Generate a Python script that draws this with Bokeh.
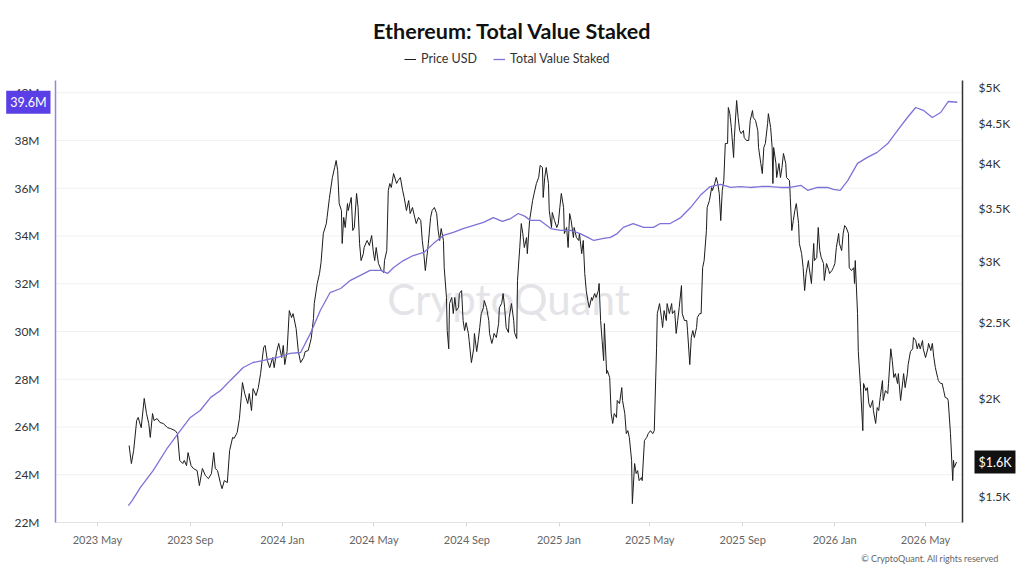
import numpy as np
import pandas as pd
from bokeh.plotting import figure
from bokeh.models import (Range1d, LinearAxis, LogAxis, DatetimeAxis, LogScale, FixedTicker,
                          DatetimeTickFormatter, PrintfTickFormatter, Label, Legend, LegendItem)
from bokeh.embed import file_html
from bokeh.resources import INLINE

price_dates = [
 "2023-06-12","2023-06-15","2023-06-18","2023-06-22","2023-06-24","2023-06-28","2023-07-02","2023-07-05","2023-07-08","2023-07-10",
 "2023-07-13","2023-07-15","2023-07-19","2023-07-23","2023-07-27","2023-08-02","2023-08-06","2023-08-12","2023-08-15","2023-08-18",
 "2023-08-22","2023-08-24","2023-08-27","2023-08-29","2023-09-02","2023-09-05","2023-09-10","2023-09-13","2023-09-17","2023-09-21",
 "2023-09-25","2023-09-29","2023-10-02","2023-10-04","2023-10-07","2023-10-11","2023-10-13","2023-10-16","2023-10-20","2023-10-23",
 "2023-10-27","2023-10-29","2023-11-02","2023-11-05","2023-11-09","2023-11-12","2023-11-16","2023-11-18","2023-11-21","2023-11-23",
 "2023-11-27","2023-11-30","2023-12-03","2023-12-07","2023-12-09","2023-12-12","2023-12-15","2023-12-19","2023-12-21","2023-12-24",
 "2023-12-27","2023-12-31","2024-01-02","2024-01-04","2024-01-07","2024-01-10","2024-01-13","2024-01-15","2024-01-19","2024-01-22",
 "2024-01-25","2024-01-29","2024-01-31","2024-02-04","2024-02-08","2024-02-11","2024-02-12","2024-02-16","2024-02-19","2024-02-21",
 "2024-02-24","2024-02-28","2024-02-29","2024-03-03","2024-03-07","2024-03-10","2024-03-12","2024-03-14","2024-03-16","2024-03-19",
 "2024-03-20","2024-03-22","2024-03-24","2024-03-27","2024-03-28","2024-04-01","2024-04-03","2024-04-05","2024-04-08","2024-04-10",
 "2024-04-12","2024-04-14","2024-04-17","2024-04-18","2024-04-22","2024-04-25","2024-04-28","2024-04-30","2024-05-02","2024-05-04",
 "2024-05-07","2024-05-11","2024-05-14","2024-05-15","2024-05-18","2024-05-20","2024-05-22","2024-05-24","2024-05-27","2024-05-31",
 "2024-06-02","2024-06-05","2024-06-08","2024-06-10","2024-06-13","2024-06-16","2024-06-18","2024-06-21","2024-06-24","2024-06-26",
 "2024-06-29","2024-07-02","2024-07-04","2024-07-06","2024-07-08","2024-07-11","2024-07-12","2024-07-15","2024-07-17","2024-07-20",
 "2024-07-23","2024-07-25","2024-07-27","2024-07-29","2024-08-01","2024-08-02","2024-08-05","2024-08-06","2024-08-08","2024-08-09",
 "2024-08-12","2024-08-14","2024-08-16","2024-08-18","2024-08-21","2024-08-22","2024-08-25","2024-08-27","2024-08-29","2024-08-31",
 "2024-09-03","2024-09-04","2024-09-07","2024-09-10","2024-09-11","2024-09-14","2024-09-16","2024-09-18","2024-09-20","2024-09-23",
 "2024-09-24","2024-09-27","2024-09-30","2024-10-01","2024-10-04","2024-10-06","2024-10-07","2024-10-10","2024-10-13","2024-10-14",
 "2024-10-17","2024-10-19","2024-10-21","2024-10-23","2024-10-26","2024-10-27","2024-10-30","2024-11-02","2024-11-03","2024-11-06",
 "2024-11-07","2024-11-10","2024-11-12","2024-11-14","2024-11-16","2024-11-19","2024-11-20","2024-11-23","2024-11-27","2024-11-29",
 "2024-12-02","2024-12-05","2024-12-07","2024-12-10","2024-12-11","2024-12-13","2024-12-15","2024-12-18","2024-12-19","2024-12-22",
 "2024-12-23","2024-12-26","2024-12-29","2024-12-31","2025-01-02","2025-01-04","2025-01-07","2025-01-08","2025-01-11","2025-01-13",
 "2025-01-15","2025-01-17","2025-01-20","2025-01-21","2025-01-24","2025-01-27","2025-01-28","2025-01-31","2025-02-02","2025-02-04",
 "2025-02-06","2025-02-08","2025-02-10","2025-02-13","2025-02-14","2025-02-17","2025-02-19","2025-02-22","2025-02-23","2025-02-25",
 "2025-02-27","2025-03-01","2025-03-02","2025-03-05","2025-03-06","2025-03-09","2025-03-11","2025-03-13","2025-03-15","2025-03-18",
 "2025-03-19","2025-03-22","2025-03-25","2025-03-26","2025-03-29","2025-03-31","2025-04-02","2025-04-04","2025-04-07","2025-04-08",
 "2025-04-11","2025-04-13","2025-04-15","2025-04-17","2025-04-20","2025-04-21","2025-04-24","2025-04-27","2025-04-29","2025-05-02",
 "2025-05-05","2025-05-07","2025-05-10","2025-05-11","2025-05-14","2025-05-17","2025-05-18","2025-05-20","2025-05-23","2025-05-24",
 "2025-05-27","2025-05-30","2025-05-31","2025-06-03","2025-06-05","2025-06-07","2025-06-09","2025-06-12","2025-06-13","2025-06-16",
 "2025-06-19","2025-06-20","2025-06-23","2025-06-25","2025-06-27","2025-06-29","2025-07-02","2025-07-03","2025-07-06","2025-07-08",
 "2025-07-10","2025-07-12","2025-07-15","2025-07-16","2025-07-19","2025-07-22","2025-07-23","2025-07-26","2025-07-28","2025-07-30",
 "2025-08-01","2025-08-03","2025-08-05","2025-08-07","2025-08-09","2025-08-12","2025-08-13","2025-08-15","2025-08-17","2025-08-20",
 "2025-08-21","2025-08-24","2025-08-26","2025-08-28","2025-08-30","2025-09-02","2025-09-03","2025-09-06","2025-09-09","2025-09-11",
 "2025-09-14","2025-09-15","2025-09-18","2025-09-21","2025-09-22","2025-09-25","2025-09-27","2025-09-29","2025-10-01","2025-10-04",
 "2025-10-05","2025-10-08","2025-10-10","2025-10-11","2025-10-12","2025-10-15","2025-10-16","2025-10-19","2025-10-21","2025-10-23",
 "2025-10-25","2025-10-28","2025-10-29","2025-11-02","2025-11-03","2025-11-05","2025-11-07","2025-11-09","2025-11-11","2025-11-14",
 "2025-11-15","2025-11-18","2025-11-20","2025-11-22","2025-11-24","2025-11-27","2025-11-28","2025-12-01","2025-12-04","2025-12-05",
 "2025-12-08","2025-12-10","2025-12-12","2025-12-14","2025-12-17","2025-12-18","2025-12-21","2025-12-24","2025-12-25","2025-12-28",
 "2025-12-30","2026-01-01","2026-01-03","2026-01-06","2026-01-07","2026-01-10","2026-01-12","2026-01-14","2026-01-16","2026-01-19",
 "2026-01-20","2026-01-23","2026-01-26","2026-01-27","2026-01-28","2026-01-31","2026-02-01","2026-02-04","2026-02-07","2026-02-08",
 "2026-02-11","2026-02-13","2026-02-15","2026-02-17","2026-02-20","2026-02-21","2026-02-24","2026-02-26","2026-02-28","2026-03-02",
 "2026-03-05","2026-03-06","2026-03-09","2026-03-12","2026-03-13","2026-03-16","2026-03-18","2026-03-20","2026-03-22","2026-03-25",
 "2026-03-26","2026-03-29","2026-04-01","2026-04-02","2026-04-04","2026-04-07","2026-04-08","2026-04-11","2026-04-14","2026-04-15",
 "2026-04-18","2026-04-20","2026-04-22","2026-04-24","2026-04-27","2026-04-28","2026-05-01","2026-05-04","2026-05-05","2026-05-08",
 "2026-05-10","2026-05-12","2026-05-14","2026-05-17","2026-05-18","2026-05-21","2026-05-23","2026-05-25","2026-05-27","2026-05-30",
 "2026-05-31","2026-06-03","2026-06-06","2026-06-07","2026-06-08","2026-06-11",
]
price_usd = [
 1743,1653,1717,1876,1893,1837,2002,1915,1860,1785,
 1915,1876,1887,1865,1860,1837,1832,1821,1805,1668,
 1653,1668,1643,1707,1643,1629,1619,1549,1629,1595,
 1581,1605,1707,1629,1619,1558,1535,1572,1563,1717,
 1785,1780,1811,1887,2098,2031,1972,2031,1932,2061,
 2019,2067,2154,2326,2340,2238,2192,2258,2192,2292,
 2354,2258,2340,2212,2298,2593,2540,2570,2460,2298,
 2225,2258,2298,2305,2388,2533,2647,2808,2892,2987,
 3253,3350,3411,3606,3836,3951,4033,3916,3553,3481,
 3159,3411,3311,3553,3481,3617,3282,3311,3660,3512,
 3159,3004,3066,3122,3187,3140,3234,3094,3004,3122,
 2978,2917,2900,3004,3094,3692,3769,3725,3881,3769,
 3802,3836,3692,3617,3481,3585,3450,3512,3411,3350,
 3411,3380,3187,3066,2917,3094,3159,3411,3481,3512,
 3450,3282,3187,3301,3187,2942,2695,2445,2317,2647,
 2695,2570,2695,2593,2616,2726,2750,2518,2445,2503,
 2424,2374,2225,2317,2424,2298,2374,2467,2570,2616,
 2671,2616,2518,2424,2354,2395,2424,2395,2496,2616,
 2647,2726,2616,2467,2431,2540,2647,2518,2431,2388,
 2833,3122,3350,3253,3122,3215,3066,3380,3585,3660,
 3769,3836,3975,3951,3617,3836,3951,3769,3481,3311,
 3461,3380,3311,3350,3512,3660,3512,3253,3311,3122,
 3450,3380,3215,3311,3215,3187,3253,3066,3187,2892,
 2750,2671,2616,2695,2671,2726,2695,2750,2808,2518,
 2374,2238,2496,2154,2173,2129,1915,1860,1915,1893,
 1990,1972,2067,1990,1915,1805,1821,1785,1668,1469,
 1653,1605,1619,1572,1586,1572,1769,1785,1805,1821,
 1805,1821,2317,2570,2647,2518,2467,2593,2518,2647,
 2570,2647,2570,2593,2424,2518,2616,2791,2570,2518,
 2518,2445,2212,2395,2445,2395,2467,2540,2570,2570,
 2942,3004,3282,3512,3585,3725,3692,3769,3836,3769,
 3660,3380,3692,3802,4241,4241,4714,4630,4445,4069,
 4316,4812,4577,4405,4366,4405,4316,4278,4278,4537,
 4672,4577,4537,4405,4191,3998,3881,4191,4241,4497,
 4630,4445,4191,3769,4191,3998,3836,3998,3836,3951,
 4117,3998,3836,3802,3617,3282,3380,3481,3553,3350,
 3159,3066,2942,2750,2892,3004,2942,2808,3159,3004,
 3031,3311,3094,3031,2978,2833,2978,2917,2892,2917,
 2942,2978,3122,3253,3159,3094,3253,3330,3311,3253,
 2942,2917,2942,2808,3004,2570,2298,2067,1821,2092,
 2049,2067,1972,1949,1990,1932,1860,1949,1932,2008,
 2110,1990,2049,2031,2092,2317,2238,2129,2154,2092,
 2154,1990,2110,2154,2067,2154,2212,2298,2317,2395,
 2374,2317,2354,2317,2374,2317,2258,2317,2354,2305,
 2354,2258,2192,2129,2110,2092,2092,2049,2008,2002,
 1990,1805,1572,1668,1634,1660,
]

staked_dates = [
 "2023-06-11","2023-06-16","2023-06-27","2023-07-14","2023-08-02","2023-08-16","2023-09-01","2023-09-14","2023-09-28","2023-10-11",
 "2023-10-24","2023-11-10","2023-11-23","2023-12-07","2023-12-25","2024-01-11","2024-01-25","2024-02-07","2024-02-20","2024-03-04",
 "2024-03-18","2024-03-31","2024-04-13","2024-04-26","2024-05-10","2024-05-19","2024-05-27","2024-06-09","2024-06-22","2024-07-06",
 "2024-07-19","2024-08-01","2024-08-14","2024-08-27","2024-09-10","2024-09-23","2024-10-06","2024-10-18","2024-10-29","2024-11-08",
 "2024-11-17","2024-11-24","2024-12-07","2024-12-21","2025-01-03","2025-01-16","2025-01-29","2025-02-08","2025-02-16","2025-03-01",
 "2025-03-10","2025-03-19","2025-03-27","2025-04-09","2025-04-23","2025-05-06","2025-05-15","2025-05-28","2025-06-11","2025-06-24",
 "2025-07-07","2025-07-20","2025-08-03","2025-08-16","2025-08-29","2025-09-11","2025-09-25","2025-10-08","2025-10-21","2025-11-03",
 "2025-11-17","2025-11-26","2025-12-09","2025-12-22","2025-12-30","2026-01-08","2026-01-18","2026-01-31","2026-02-13","2026-02-26",
 "2026-03-12","2026-03-25","2026-04-07","2026-04-18","2026-04-28","2026-05-10","2026-05-21","2026-05-31","2026-06-12",
]
staked_m = [
 22.71,22.92,23.47,24.18,25.14,25.73,26.40,26.69,27.24,27.53,
 27.95,28.49,28.70,28.79,28.91,29.08,29.12,29.92,30.88,31.63,
 31.80,32.14,32.35,32.56,32.56,32.43,32.68,32.97,33.18,33.31,
 33.69,34.02,34.15,34.31,34.44,34.57,34.77,34.61,34.73,34.94,
 34.82,34.65,34.65,34.31,34.23,34.23,34.10,33.94,33.81,33.90,
 33.94,34.10,34.36,34.52,34.36,34.36,34.52,34.52,34.77,35.19,
 35.70,36.07,36.16,36.03,36.07,36.03,36.07,36.07,36.03,36.03,
 36.12,35.91,36.03,36.03,35.95,35.91,36.32,37.04,37.29,37.50,
 37.87,38.42,38.96,39.38,39.26,38.96,39.17,39.63,39.60,
]

left_ticks = [22, 24, 26, 28, 30, 32, 34, 36, 38, 40]
right_ticks = [1500, 2000, 2500, 3000, 3500, 4000, 4500, 5000]
right_labels = ["$1.5K", "$2K", "$2.5K", "$3K", "$3.5K", "$4K", "$4.5K", "$5K"]
x_tick_dates = ["2023-05-01", "2023-09-01", "2024-01-01", "2024-05-01", "2024-09-01",
                "2025-01-01", "2025-05-01", "2025-09-01", "2026-01-01", "2026-05-01"]
last_staked_label = "39.6M"
last_price_label = "$1.6K"

FONT = "Lato"
PURPLE = "#7d72d8"

# ---- layout: plot area inside a full-canvas frame ----
W, H = 1024, 576
PL, PR, PT, PB = 55, 962, 80, 522          # plot area in pixels
X_LO, X_HI = "2023-03-06 14:00", "2026-06-18 22:00"
Y_LO, Y_HI = 22.0, 40.51                  # staked (M)
P_LO, P_HI = 1389.6, 5104.0                # price (log)

def ms(s):
    return pd.Timestamp(s).value / 1e6

x_lo, x_hi = ms(X_LO), ms(X_HI)
xpp = (x_hi - x_lo) / (PR - PL)
ypp = (Y_HI - Y_LO) / (PB - PT)
lpp = (np.log(P_HI) - np.log(P_LO)) / (PB - PT)

x_range = Range1d(x_lo - PL * xpp, x_hi + (W - PR) * xpp)
y_range = Range1d(Y_LO - (H - PB) * ypp, Y_HI + PT * ypp)
p_range = Range1d(float(P_LO * np.exp(-(H - PB) * lpp)), float(P_HI * np.exp(PT * lpp)))

p = figure(width=W, height=H, x_range=x_range, y_range=y_range,
           x_axis_type=None, y_axis_type=None, title_location=None,
           output_backend="svg", toolbar_location=None, min_border=0)
p.outline_line_color = None
p.background_fill_color = "white"
p.border_fill_color = "white"
p.xgrid.visible = False
p.ygrid.visible = False
p.extra_y_ranges = {"price": p_range}
p.extra_y_scales = {"price": LogScale()}

# grid lines across the plot area only
p.segment(x0=[x_lo] * len(left_ticks), x1=[x_hi] * len(left_ticks), y0=left_ticks, y1=left_ticks,
          line_color="#f1f1f1", line_width=1, level="underlay")

# left axis
ya = LinearAxis(ticker=FixedTicker(ticks=left_ticks), formatter=PrintfTickFormatter(format="%dM"),
                fixed_location=x_lo, bounds=(Y_LO, Y_HI))
ya.axis_line_color = "#8f87dd"
ya.axis_line_width = 1.5
ya.major_tick_line_color = None
ya.minor_tick_line_color = None
ya.major_label_text_font = FONT
ya.major_label_text_font_size = "12px"
ya.major_label_text_color = "#333333"
ya.major_label_standoff = 10
p.add_layout(ya, "left")

# right axis (log)
ra = LogAxis(y_range_name="price", ticker=FixedTicker(ticks=right_ticks),
             fixed_location=x_hi, bounds=(P_LO, P_HI))
ra.major_label_overrides = {t: l for t, l in zip(right_ticks, right_labels)}
ra.axis_line_color = "#333333"
ra.axis_line_width = 1.5
ra.major_tick_line_color = None
ra.minor_tick_line_color = None
ra.major_label_text_font = FONT
ra.major_label_text_font_size = "12px"
ra.major_label_text_color = "#333333"
ra.major_label_standoff = 10
p.add_layout(ra, "right")

# bottom axis
fmt = "%Y %b"
xa = DatetimeAxis(ticker=FixedTicker(ticks=[ms(d) for d in x_tick_dates]),
                  formatter=DatetimeTickFormatter(milliseconds=fmt, seconds=fmt, minsec=fmt, minutes=fmt,
                                                  hourmin=fmt, hours=fmt, days=fmt, months=fmt, years=fmt),
                  fixed_location=Y_LO, bounds=(x_lo, x_hi))
xa.axis_line_color = "#e3e3e3"
xa.major_tick_line_color = "#d8d8d8"
xa.major_tick_out = 4
xa.major_tick_in = 0
xa.minor_tick_line_color = None
xa.major_label_text_font = FONT
xa.major_label_text_font_size = "11px"
xa.major_label_text_color = "#666666"
xa.major_label_standoff = 6
p.add_layout(xa, "below")

# watermark
p.add_layout(Label(x=508, y=H - 298, x_units="screen", y_units="screen", text="CryptoQuant",
                   text_align="center", text_baseline="middle", text_font=FONT, text_font_size="42px",
                   text_color="#e4e4e8", level="underlay"))

# lines
r_price = p.line(pd.to_datetime(price_dates), price_usd, y_range_name="price",
                 line_color="#1c1c1c", line_width=1)
r_stake = p.line(pd.to_datetime(staked_dates), staked_m, line_color=PURPLE, line_width=1.3)

# title
p.add_layout(Label(x=512, y=H - 30, x_units="screen", y_units="screen",
                   text="Ethereum: Total Value Staked", text_align="center", text_baseline="middle",
                   text_font=FONT, text_font_size="21.5px", text_font_style="bold", text_color="#111111"))

# legend
legend = Legend(items=[LegendItem(label="Price USD", renderers=[r_price]),
                       LegendItem(label="Total Value Staked", renderers=[r_stake])],
                orientation="horizontal", location=(404, H - 66),
                border_line_color=None, background_fill_alpha=0,
                label_text_font=FONT, label_text_font_size="12.5px", label_text_color="#333333",
                glyph_width=12, glyph_height=14, label_standoff=5, spacing=16,
                padding=2, margin=0)
p.add_layout(legend, "center")

# value boxes
p.add_layout(Label(x=PL - 5, y=staked_m[-1], x_units="screen", text=last_staked_label,
                   text_align="right", text_baseline="middle", text_font=FONT,
                   text_font_size="12.5px", text_color="white",
                   background_fill_color="#5a3ee6", padding=4))
p.add_layout(Label(x=PR + 12, y=price_usd[-1], x_units="screen", y_range_name="price",
                   text=last_price_label, text_align="left", text_baseline="middle", text_font=FONT,
                   text_font_size="12.5px", text_color="white",
                   background_fill_color="#111111", padding=4))

# copyright
p.add_layout(Label(x=998, y=H - 558, x_units="screen", y_units="screen",
                   text="\u00a9 CryptoQuant. All rights reserved", text_align="right",
                   text_baseline="middle", text_font=FONT, text_font_size="9px", text_color="#666666"))

open("out.html", "w").write(file_html(p, INLINE))
